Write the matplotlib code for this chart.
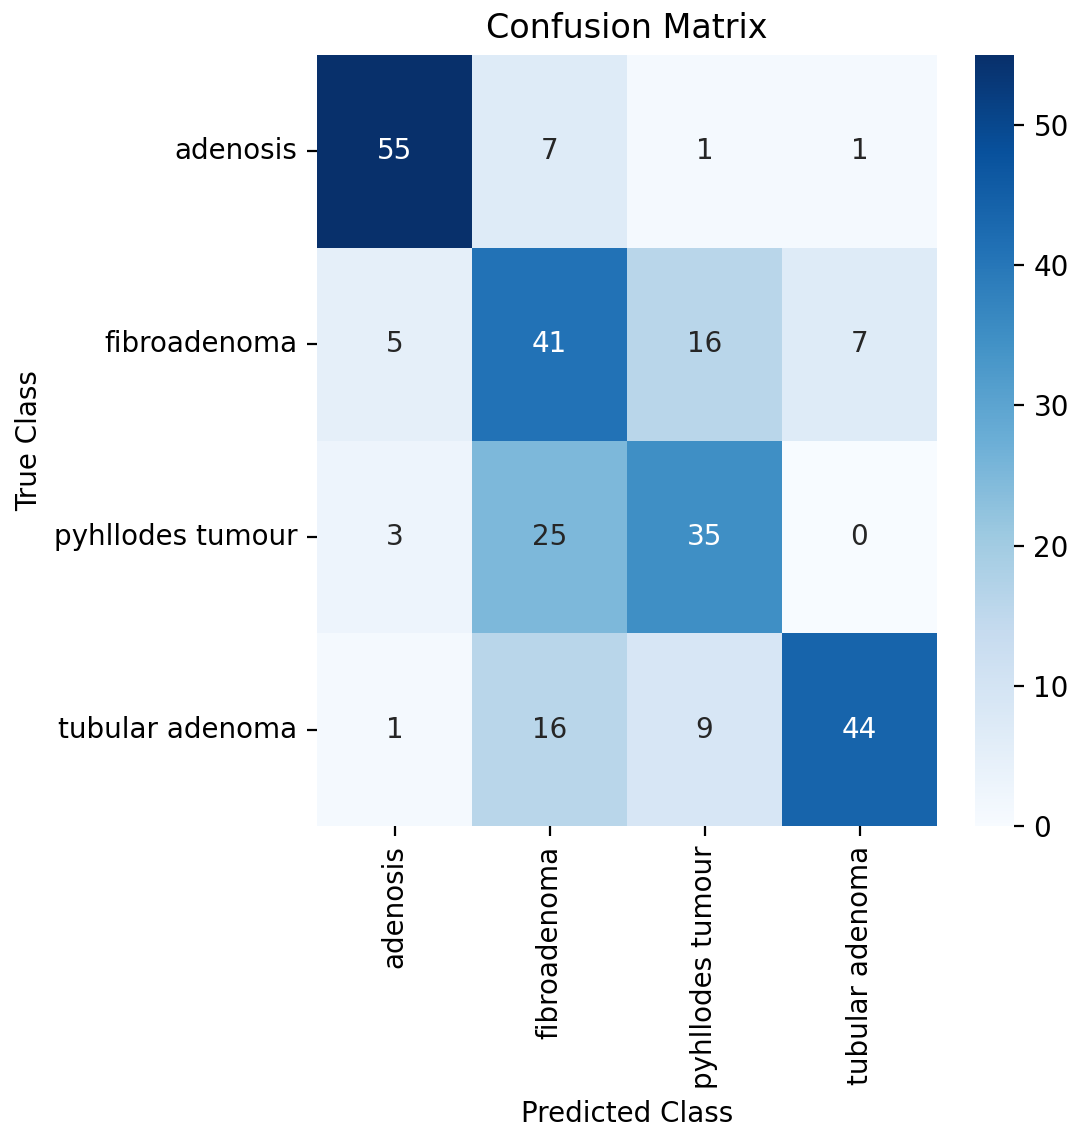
import numpy as np
import matplotlib
matplotlib.use('Agg')
import matplotlib.pyplot as plt
import seaborn as sns

classes = ['adenosis', 'fibroadenoma', 'pyhllodes tumour', 'tubular adenoma']
cm = np.array([[55, 7, 1, 1],
               [5, 41, 16, 7],
               [3, 25, 35, 0],
               [1, 16, 9, 44]])

dpi = 200
fig = plt.figure(figsize=(1072 / dpi, 1126 / dpi), dpi=dpi)
ax = fig.add_axes([317 / 1072, 300 / 1126, 620 / 1072, 771 / 1126])
cax = fig.add_axes([975 / 1072, 300 / 1126, 39 / 1072, 771 / 1126])

sns.heatmap(cm, annot=True, fmt='d', cmap='Blues', ax=ax, cbar_ax=cax,
            xticklabels=classes, yticklabels=classes)
ax.set_title('Confusion Matrix', fontsize=12)
ax.set_xlabel('Predicted Class')
ax.set_ylabel('True Class')
plt.setp(ax.get_xticklabels(), rotation=90)
plt.setp(ax.get_yticklabels(), rotation=0)

fig.savefig('out.png', dpi=dpi)
